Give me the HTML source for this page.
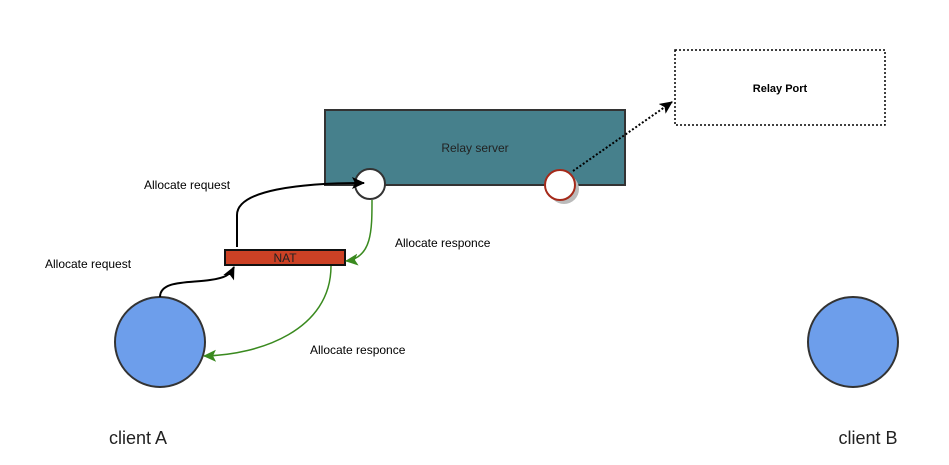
<!DOCTYPE html>
<html><head><style>body{margin:0;background:#fff}svg{display:block}text{font-family:"Liberation Sans",sans-serif}</style></head><body>
<svg width="949" height="465" viewBox="0 0 949 465">
<defs>
<marker id="ab" markerWidth="14" markerHeight="14" refX="12" refY="6" orient="auto" markerUnits="userSpaceOnUse"><path d="M0,0 L13,6 L0,12 L3,6z" fill="#000"/></marker>
<marker id="ag" markerWidth="14" markerHeight="14" refX="12" refY="6" orient="auto" markerUnits="userSpaceOnUse"><path d="M0,0 L13,6 L0,12 L3,6z" fill="#3a8a1f"/></marker>
</defs>
<rect x="325" y="110" width="300" height="75" fill="#46808c" stroke="#333" stroke-width="2"/>
<text x="475" y="152" font-size="12" text-anchor="middle" fill="#222">Relay server</text>
<circle cx="370" cy="184" r="15" fill="#fff" stroke="#333" stroke-width="2"/>
<circle cx="564" cy="189" r="15" fill="#bbb"/>
<circle cx="560" cy="185" r="15" fill="#fff" stroke="#a52a1a" stroke-width="2"/>
<rect x="675" y="50" width="210" height="75" fill="#fff" stroke="#000" stroke-width="1.5" stroke-dasharray="2,2"/>
<text x="780" y="92" font-size="11" font-weight="bold" text-anchor="middle">Relay Port</text>
<path d="M573,171 L672,102" stroke="#000" stroke-width="2" stroke-dasharray="2,2" fill="none" marker-end="url(#ab)"/>
<rect x="225" y="250" width="120" height="15" fill="#cc4125" stroke="#111" stroke-width="2"/>
<text x="285" y="262" font-size="12" text-anchor="middle" fill="#222">NAT</text>
<circle cx="160" cy="342" r="45" fill="#6d9eeb" stroke="#333" stroke-width="2"/>
<circle cx="853" cy="342" r="45" fill="#6d9eeb" stroke="#333" stroke-width="2"/>
<path d="M237,247 L237,215 C237,190 300,183 364,183" stroke="#000" stroke-width="2" fill="none" marker-end="url(#ab)"/>
<path d="M160,297 C160,280 190,283 210,280 C225,278 230,275 234,267" stroke="#000" stroke-width="2" fill="none" marker-end="url(#ab)"/>
<path d="M372,200 C372,230 372,258 346,261" stroke="#3a8a1f" stroke-width="1.5" fill="none" marker-end="url(#ag)"/>
<path d="M331,266 C331,330 260,355 204,356" stroke="#3a8a1f" stroke-width="1.5" fill="none" marker-end="url(#ag)"/>
<text x="144" y="189" font-size="12">Allocate request</text>
<text x="45" y="268" font-size="12">Allocate request</text>
<text x="395" y="247" font-size="12">Allocate responce</text>
<text x="310" y="354" font-size="12">Allocate responce</text>
<text x="138" y="444" font-size="18" text-anchor="middle" fill="#222">client A</text>
<text x="868" y="444" font-size="18" text-anchor="middle" fill="#222">client B</text>
</svg>
</body></html>
